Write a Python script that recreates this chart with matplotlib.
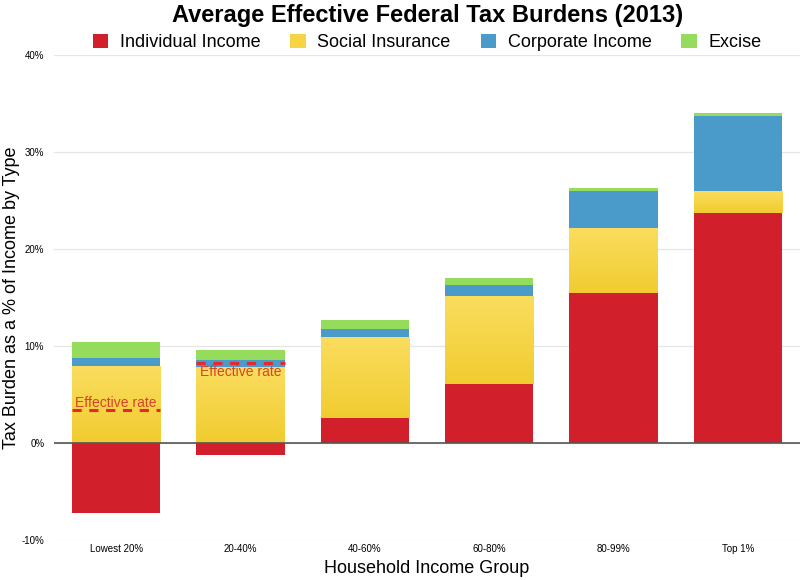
import matplotlib.pyplot as plt
import numpy as np
from matplotlib.colors import LinearSegmentedColormap

plt.rcParams['font.family'] = ['Liberation Sans', 'DejaVu Sans']

# data (% of income)
groups = ["Lowest 20%", "20-40%", "40-60%", "60-80%", "80-99%", "Top 1%"]
individual = [-7.2, -1.2, 2.6, 6.1, 15.5, 23.7]
social = [7.9, 7.8, 8.3, 9.1, 6.7, 2.3]
corporate = [0.9, 0.8, 0.9, 1.1, 3.8, 7.7]
excise = [1.6, 1.0, 0.9, 0.7, 0.3, 0.3]
effective = [3.4, 8.3]   # only marked for the first two groups

names = ["Individual Income", "Social Insurance", "Corporate Income", "Excise"]
colors = ["#D1202B", "#F6D443", "#4A9BCA", "#96DC5C"]

fig = plt.figure(figsize=(8, 5.8), dpi=100)
ax = fig.add_axes([0.0675, 0.069, 0.9325, 0.836])

x = np.arange(len(groups))
w = 0.71

ind = np.array(individual)
soc = np.array(social)
cor = np.array(corporate)
exc = np.array(excise)

# social insurance stacks on top of individual income only where that is positive
base = np.where(ind > 0, ind, 0)
ax.bar(x, ind, w, color=colors[0], label=names[0], zorder=2)
bars = ax.bar(x, soc, w, bottom=base, color=colors[1], label=names[1], zorder=2)
ax.bar(x, cor, w, bottom=base + soc, color=colors[2], label=names[2], zorder=2)
ax.bar(x, exc, w, bottom=base + soc + cor, color=colors[3], label=names[3], zorder=2)

# soft vertical gradient on the yellow segments
grad = np.linspace(0, 1, 100).reshape(-1, 1)
cmap = LinearSegmentedColormap.from_list("y", ["#F1CC30", "#FADD5E"])
for r in bars:
    x0, y0 = r.get_x(), r.get_y()
    im = ax.imshow(grad, cmap=cmap, aspect='auto', origin='lower',
                   extent=[x0, x0 + r.get_width(), y0, y0 + r.get_height()], zorder=2.5)
    im.set_clip_path(r)

# effective rate markers
for i, v in enumerate(effective):
    ax.plot([x[i] - w / 2, x[i] + w / 2], [v, v], color="#E8262B", lw=2.2,
            ls=(0, (3, 2.5)), zorder=4)
ax.text(x[0], effective[0] + 0.7, "Effective rate", color="#D5432B",
        fontsize=10, ha="center", va="center", zorder=5)
ax.text(x[1], effective[1] - 0.95, "Effective rate", color="#D5432B",
        fontsize=10, ha="center", va="center", zorder=5)

ax.axhline(0, color="#555555", lw=1.2, zorder=3)

ax.set_xlim(-0.5, len(groups) - 0.5)
ax.set_ylim(-10, 40)
ax.set_yticks([-10, 0, 10, 20, 30, 40])
ax.set_yticklabels(["-10%", "0%", "10%", "20%", "30%", "40%"])
ax.set_xticks(x)
ax.set_xticklabels(groups)
ax.tick_params(axis="both", length=0, labelsize=7)
ax.tick_params(axis="x", pad=3)
ax.tick_params(axis="y", pad=7)
ax.yaxis.grid(True, color="#E6E6E6", lw=0.9, zorder=0)
ax.set_axisbelow(True)
for s in ax.spines.values():
    s.set_visible(False)

ax.set_xlabel("Household Income Group", fontsize=13, va="center")
ax.xaxis.set_label_coords(0.5, -0.058)
ax.set_ylabel("Tax Burden as a % of Income by Type", fontsize=13, va="center")
ax.yaxis.set_label_coords(-0.057, 0.5)

fig.text(0.534, 0.973, "Average Effective Federal Tax Burdens (2013)", fontsize=17,
         fontweight="bold", ha="center", va="center")

ax.legend(loc="center", bbox_to_anchor=(0.534, 0.927), bbox_transform=fig.transFigure,
          ncol=4, frameon=False, fontsize=13, handlelength=0.85, handleheight=0.85,
          columnspacing=1.65, handletextpad=0.65, borderaxespad=0)

fig.savefig("out.png", dpi=100)
